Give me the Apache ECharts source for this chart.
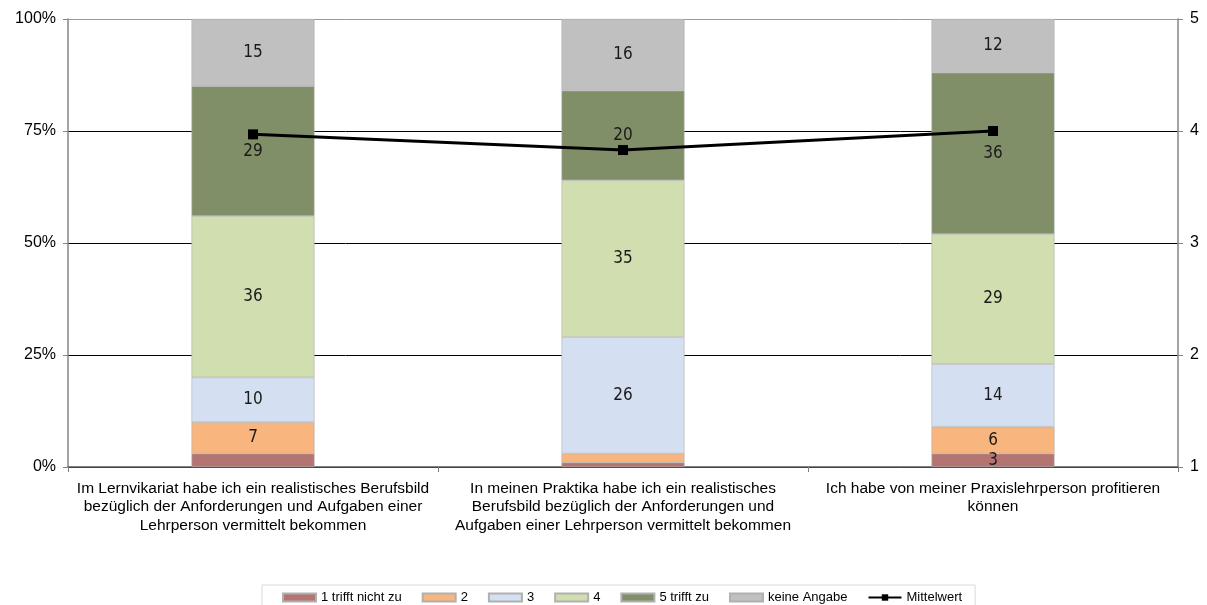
<!DOCTYPE html>
<html>
<head>
<meta charset="utf-8">
<script src="https://cdn.jsdelivr.net/npm/echarts@6/dist/echarts.min.js"></script>
<style>
  html, body { margin: 0; padding: 0; background: #fff; }
  #chart { width: 1207px; height: 605px; }
</style>
</head>
<body>
<div id="chart"></div>
<script>
// Survey items (x axis)
const categories = [
  'Im Lernvikariat habe ich ein realistisches Berufsbild\nbezüglich der Anforderungen und Aufgaben einer\nLehrperson vermittelt bekommen',
  'In meinen Praktika habe ich ein realistisches\nBerufsbild bezüglich der Anforderungen und\nAufgaben einer Lehrperson vermittelt bekommen',
  'Ich habe von meiner Praxislehrperson profitieren\nkönnen'
];

// Answer shares in percent, per answer level
const rating1 = [3, 1, 3];      // 1 trifft nicht zu
const rating2 = [7, 2, 6];      // 2
const rating3 = [10, 26, 14];   // 3
const rating4 = [36, 35, 29];   // 4
const rating5 = [29, 20, 36];   // 5 trifft zu
const noAnswer = [15, 16, 12];  // keine Angabe

// Mean rating on the 1–5 scale
const meanValue = [3.97, 3.83, 4.0];

// Which segments carry a value label
const showLabel = {
  rating1: [false, false, true],
  rating2: [true, false, true],
  rating3: [true, true, true],
  rating4: [true, true, true],
  rating5: [true, true, true],
  noAnswer: [true, true, true]
};

const leftTicks = ['0%', '25%', '50%', '75%', '100%'];

const font = 'Liberation Sans, Arial, sans-serif';
const labelFont = 'DejaVu Sans Condensed, DejaVu Sans, sans-serif';

function stackSeries(name, values, flags, color) {
  return {
    name: name,
    type: 'bar',
    stack: 'total',
    barWidth: 123,
    yAxisIndex: 0,
    itemStyle: { color: color, borderColor: '#b0b0b0', borderWidth: 0.6 },
    data: values.map((v, i) => ({
      value: v,
      label: { show: flags[i] }
    })),
    label: {
      position: 'inside',
      color: '#1a1a1a',
      fontFamily: labelFont,
      fontSize: 17
    },
    emphasis: { disabled: true },
    z: 2
  };
}

const chart = echarts.init(document.getElementById('chart'), null, { renderer: 'canvas' });

chart.setOption({
  animation: false,
  backgroundColor: '#ffffff',
  grid: { left: 68, right: 29, top: 19, bottom: 138, containLabel: false },
  legend: {
    left: 262,
    top: 585,
    width: 713,
    padding: [6, 13, 6, 20],
    borderColor: '#d9d9d9',
    borderWidth: 1,
    itemWidth: 33,
    itemHeight: 8,
    itemGap: 20,
    textStyle: { fontFamily: font, fontSize: 13, color: '#000' },
    data: [
      { name: '1 trifft nicht zu', icon: 'rect' },
      { name: '2', icon: 'rect' },
      { name: '3', icon: 'rect' },
      { name: '4', icon: 'rect' },
      { name: '5 trifft zu', icon: 'rect' },
      { name: 'keine Angabe', icon: 'rect' },
      { name: 'Mittelwert' }
    ]
  },
  xAxis: {
    type: 'category',
    data: categories,
    axisLine: { lineStyle: { color: '#595959', width: 1.5 } },
    axisTick: { show: true, length: 5, lineStyle: { color: '#808080' } },
    axisLabel: {
      interval: 0,
      margin: 12,
      fontFamily: font,
      fontSize: 15.5,
      lineHeight: 18.5,
      color: '#000',
      align: 'center'
    }
  },
  yAxis: [
    {
      type: 'value',
      min: 0,
      max: 100,
      interval: 25,
      position: 'left',
      axisLine: { show: true, lineStyle: { color: '#868686', width: 1.5 } },
      axisTick: { show: true, length: 5, lineStyle: { color: '#868686' } },
      axisLabel: {
        margin: 12,
        fontFamily: font,
        fontSize: 16,
        color: '#000',
        formatter: (v) => leftTicks[v / 25]
      },
      splitLine: {
        show: true,
        lineStyle: { color: ['#000', '#000', '#000', '#000', '#9a9a9a'], width: 1 }
      }
    },
    {
      type: 'value',
      min: 1,
      max: 5,
      interval: 1,
      position: 'right',
      axisLine: { show: true, lineStyle: { color: '#868686', width: 1.5 } },
      axisTick: { show: true, length: 5, lineStyle: { color: '#868686' } },
      axisLabel: { margin: 12, fontFamily: font, fontSize: 16, color: '#000' },
      splitLine: { show: false }
    }
  ],
  series: [
    stackSeries('1 trifft nicht zu', rating1, showLabel.rating1, '#b47472'),
    stackSeries('2', rating2, showLabel.rating2, '#f8b57d'),
    stackSeries('3', rating3, showLabel.rating3, '#d4e0f1'),
    stackSeries('4', rating4, showLabel.rating4, '#d1deaf'),
    stackSeries('5 trifft zu', rating5, showLabel.rating5, '#808f68'),
    stackSeries('keine Angabe', noAnswer, showLabel.noAnswer, '#c0c0c0'),
    {
      name: 'Mittelwert',
      type: 'line',
      yAxisIndex: 1,
      data: meanValue,
      symbol: 'rect',
      symbolSize: 10,
      lineStyle: { color: '#000', width: 3 },
      itemStyle: { color: '#000' },
      label: { show: false },
      emphasis: { disabled: true },
      z: 5
    }
  ]
});
</script>
</body>
</html>
